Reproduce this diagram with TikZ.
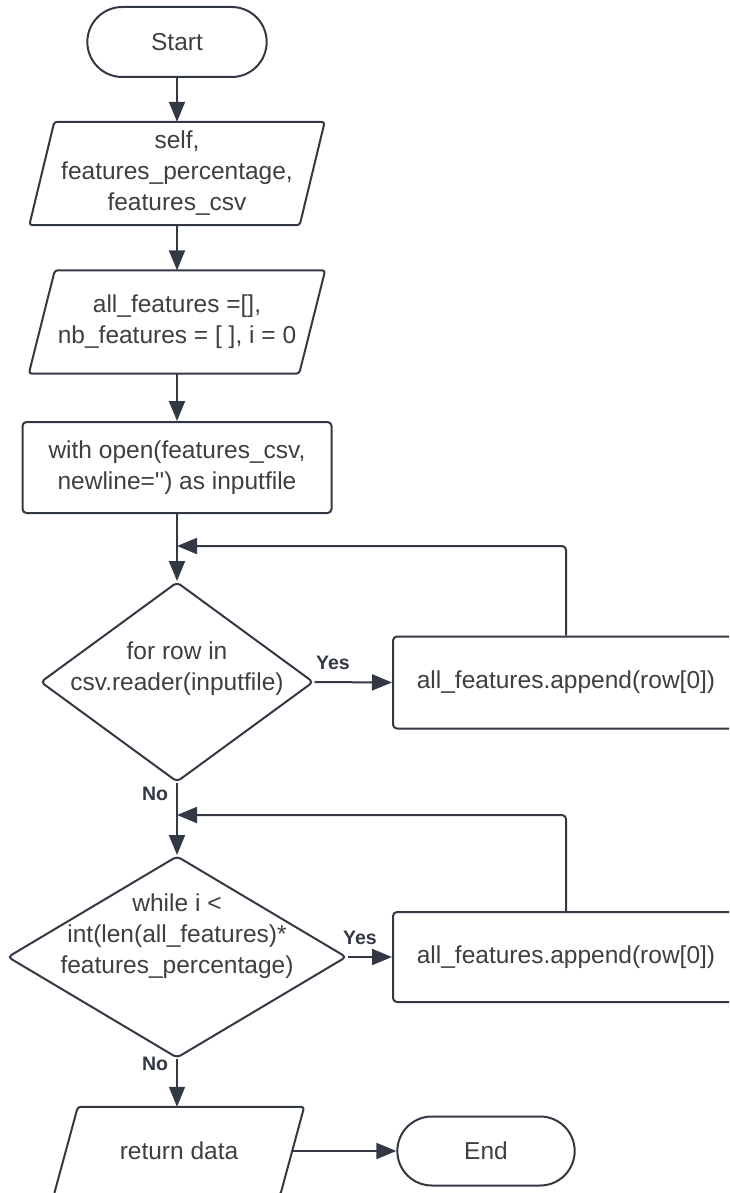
\documentclass[tikz,border=0pt]{standalone}
\usepackage{fontspec}
\setmainfont{Liberation Sans}[Ligatures=TeXOff]
\usetikzlibrary{arrows.meta,shapes.geometric,shapes.misc}
\definecolor{lc}{HTML}{333944}
\definecolor{tc}{HTML}{3F3F3F}
\tikzset{
  line/.style={draw=lc, line width=2pt},
  arr/.style={line, -{Triangle[length=20pt,width=16pt]}},
  txt/.style={text=tc, font=\fontsize{24.5}{31}\selectfont, align=center},
  tag/.style={text=lc, font=\fontsize{19.5}{22}\selectfont\bfseries, inner sep=0pt},
  term/.style={line, txt, rounded rectangle, minimum width=186pt, minimum height=70pt},
  procbox/.style={line, txt, rectangle, rounded corners=4pt},
  paranode/.style={txt, rectangle, inner sep=0pt},
  decision/.style={line, diamond, inner sep=0pt, rounded corners=4pt},
}
% outline of an input/output parallelogram around a rectangular node
\newcommand\paraframe[2]{%
  \draw[line, rounded corners=3pt]
    ([xshift=#2]#1.north west) -- ([xshift=#2]#1.north east) --
    ([xshift=-#2]#1.south east) -- ([xshift=-#2]#1.south west) -- cycle;}
\begin{document}
\begin{tikzpicture}[x=1pt, y=-1pt]
\useasboundingbox (0,0) rectangle (729,1193);
\fill[white] (0,0) rectangle (729,1193);
\clip (0,0) rectangle (729,1193);

% main column
\node[term] (start) at (177,42) {Start};
\node[paranode, minimum width=270pt, minimum height=103pt] (params) at (177,173.5)
  {self,\\features\_percentage,\\features\_csv};
\paraframe{params}{12.5pt}
\node[paranode, minimum width=270pt, minimum height=103pt] (init) at (177,322)
  {all\_features =[],\\nb\_features = [ ], i = 0};
\paraframe{init}{13pt}
\node[procbox, minimum width=309pt, minimum height=91pt] (open) at (177,467.5)
  {with open(features\_csv,\\newline='') as inputfile};

% first loop
\node[decision, minimum width=273pt, minimum height=200pt,
  label={[txt, yshift=13pt, name=d1text]center:{for row in\\csv.reader(inputfile)}}]
  (forrow) at (177,682) {};
\node[procbox, minimum width=346pt, minimum height=92pt] (append1) at (566,682.5)
  {all\_features.append(row[0])};
\coordinate (join1) at (177,546);

% second loop
\node[decision, minimum width=339pt, minimum height=202pt,
  label={[txt, yshift=21pt, name=d2text]center:{while i <\\int(len(all\_features)*\\features\_percentage)}}]
  (whilei) at (177,957) {};
\node[procbox, minimum width=346pt, minimum height=90pt] (append2) at (566,957)
  {all\_features.append(row[0])};
\coordinate (join2) at (177,815);

% end of flow
\node[paranode, minimum width=226pt, minimum height=88pt] (ret) at (179,1151) {return data};
\paraframe{ret}{12pt}
\node[term, minimum width=184pt, minimum height=69pt] (end) at (486,1151) {End};

% branch labels
\node[tag] (yes1) at (333,663) {Yes};
\node[tag] (no1) at (155,794) {No};
\node[tag] (yes2) at (360,938) {Yes};
\node[tag] (no2) at (155,1064) {No};

% connectors
\draw[arr] (start.south) -- (params.north);
\draw[arr] (params.south) -- (init.north);
\draw[arr] (init.south) -- (open.north);
\draw[arr] (open.south) -- (forrow.north);
\draw[arr] (forrow.east) -- (append1.west);
\draw[arr, rounded corners=4pt] (append1.north) |- (join1);
\draw[arr] (forrow.south) -- (whilei.north);
\draw[arr] (whilei.east) -- (append2.west);
\draw[arr, rounded corners=4pt] (append2.north) |- (join2);
\draw[arr] (whilei.south) -- (whilei.south |- ret.north);
\draw[arr] (ret.east) -- (end.west);
\end{tikzpicture}
\end{document}
